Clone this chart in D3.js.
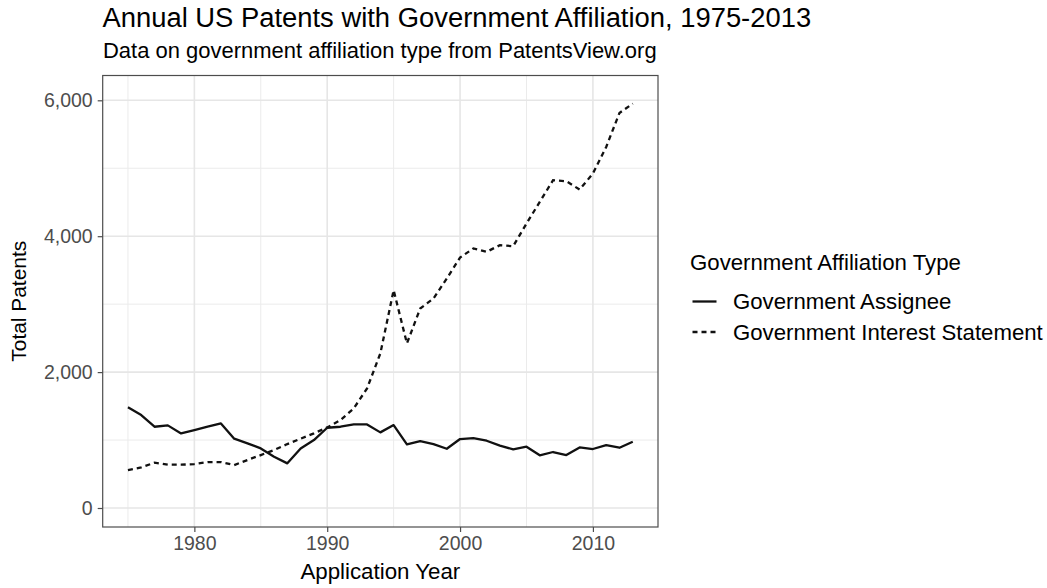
<!DOCTYPE html>
<html>
<head>
<meta charset="utf-8">
<script src="https://cdn.jsdelivr.net/npm/d3@7"></script>
<style>
  html, body { margin: 0; padding: 0; background: #fff; }
  svg { display: block; font-family: "Liberation Sans", Arial, Helvetica, sans-serif; }
</style>
</head>
<body>
<svg id="chart" width="1047" height="588"></svg>
<script>
const years = d3.range(1975, 2014);
const assignee = [1481, 1367, 1196, 1216, 1098, 1147, 1196, 1245, 1020, 951,
                  877, 755, 657, 877, 1000, 1181, 1196, 1230, 1230, 1113,
                  1220, 936, 985, 941, 872, 1015, 1029, 990, 917, 863,
                  902, 775, 824, 779, 892, 868, 926, 887, 975];
const interest = [559, 598, 667, 637, 637, 647, 676, 676, 632, 706,
                  779, 853, 941, 1020, 1098, 1186, 1294, 1466, 1760, 2275,
                  3206, 2422, 2936, 3083, 3377, 3686, 3819, 3770, 3868, 3853,
                  4186, 4505, 4824, 4809, 4686, 4922, 5314, 5814, 5951];
const seriesNames = ["Government Assignee", "Government Interest Statement"];
const xMajor = [1980, 1990, 2000, 2010];
const xMinor = [1975, 1985, 1995, 2005];
const yMajor = [0, 2000, 4000, 6000];
const yMinor = [1000, 3000, 5000];

const svg = d3.select("#chart");
const L = 102.7, R = 658, T = 75.5, B = 527;

const x = d3.scaleLinear().domain([1973.1, 2014.9]).range([L, R]);
// 0 at y=508, 6000 at y=100.3
const k = (508 - 100.3) / 6000;
const y = d3.scaleLinear().domain([-(B - 508) / k, (508 - T) / k]).range([B, T]);

function fit(sel, target) {
  const w = sel.node().getComputedTextLength();
  const fs = parseFloat(sel.attr("font-size"));
  const nfs = fs * target / w;
  sel.attr("font-size", nfs);
  return nfs;
}

// gridlines
const g = svg.append("g");
g.selectAll(".xminor").data(xMinor).join("line")
  .attr("x1", d => x(d)).attr("x2", d => x(d)).attr("y1", T).attr("y2", B)
  .attr("stroke", "#ebebeb").attr("stroke-width", 1);
g.selectAll(".yminor").data(yMinor).join("line")
  .attr("x1", L).attr("x2", R).attr("y1", d => y(d)).attr("y2", d => y(d))
  .attr("stroke", "#ebebeb").attr("stroke-width", 1);
g.selectAll(".xmajor").data(xMajor).join("line")
  .attr("x1", d => x(d)).attr("x2", d => x(d)).attr("y1", T).attr("y2", B)
  .attr("stroke", "#e6e6e6").attr("stroke-width", 1.6);
g.selectAll(".ymajor").data(yMajor).join("line")
  .attr("x1", L).attr("x2", R).attr("y1", d => y(d)).attr("y2", d => y(d))
  .attr("stroke", "#e6e6e6").attr("stroke-width", 1.6);

// lines
const line = d3.line().x((d, i) => x(years[i])).y(d => y(d));
svg.append("path").datum(assignee).attr("d", line)
  .attr("fill", "none").attr("stroke", "#111").attr("stroke-width", 2.3)
  .attr("stroke-linejoin", "round");
svg.append("path").datum(interest).attr("d", line)
  .attr("fill", "none").attr("stroke", "#111").attr("stroke-width", 2.3)
  .attr("stroke-dasharray", "5,4");

// panel border
svg.append("rect").attr("x", L).attr("y", T).attr("width", R - L).attr("height", B - T)
  .attr("fill", "none").attr("stroke", "#4d4d4d").attr("stroke-width", 1.2);

// axes
const xAxis = d3.axisBottom(x).tickValues(xMajor).tickFormat(d3.format("d")).tickSize(5).tickPadding(4);
const yAxis = d3.axisLeft(y).tickValues(yMajor).tickFormat(d3.format(",")).tickSize(5).tickPadding(5);
const gx = svg.append("g").attr("transform", `translate(0,${B})`).call(xAxis);
const gy = svg.append("g").attr("transform", `translate(${L},0)`).call(yAxis);
[gx, gy].forEach(a => {
  a.select(".domain").remove();
  a.selectAll(".tick line").attr("stroke", "#4d4d4d").attr("stroke-width", 1.2);
  a.selectAll(".tick text").attr("fill", "#4d4d4d").attr("font-size", 19.5)
    .attr("font-family", "Liberation Sans, Arial, sans-serif");
});
gx.selectAll(".tick text").attr("dy", "0.71em");

// titles
const title = svg.append("text").attr("x", 102.5).attr("y", 27.3).attr("font-size", 22)
  .attr("fill", "#000").text("Annual US Patents with Government Affiliation, 1975-2013");
fit(title, 709);
const sub = svg.append("text").attr("x", 103).attr("y", 58).attr("font-size", 17)
  .attr("fill", "#000").text("Data on government affiliation type from PatentsView.org");
fit(sub, 554);
const xt = svg.append("text").attr("x", (L + R) / 2).attr("y", 579).attr("text-anchor", "middle")
  .attr("font-size", 19.5).attr("fill", "#000").text("Application Year");
fit(xt, 160);
const yt = svg.append("text").attr("transform", `translate(26,${(T + B) / 2}) rotate(-90)`)
  .attr("text-anchor", "middle").attr("font-size", 19.5).attr("fill", "#000").text("Total Patents");
fit(yt, 121);

// legend
const lg = svg.append("g");
const lt = lg.append("text").attr("x", 690).attr("y", 270).attr("font-size", 19.5)
  .attr("fill", "#000").text("Government Affiliation Type");
fit(lt, 271);
const keyY = [301.5, 332];
const dashes = [null, "5,4"];
const labels = seriesNames.map((name, i) => {
  lg.append("line").attr("x1", 692.5).attr("x2", 716.5).attr("y1", keyY[i]).attr("y2", keyY[i])
    .attr("stroke", "#111").attr("stroke-width", 2.3).attr("stroke-dasharray", dashes[i]);
  return lg.append("text").attr("x", 733).attr("y", keyY[i] + 7.5).attr("font-size", 19.5)
    .attr("fill", "#000").text(name);
});
const lfs = fit(labels[1], 310);
labels[0].attr("font-size", lfs);
</script>
</body>
</html>
